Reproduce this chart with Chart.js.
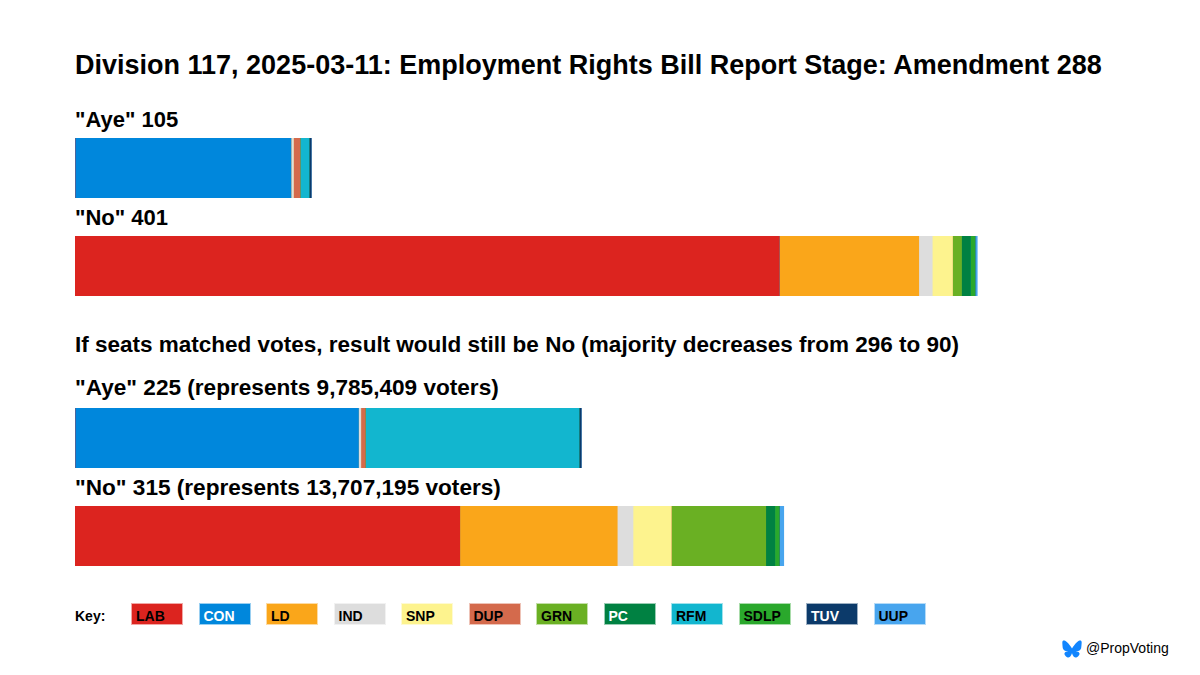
<!DOCTYPE html>
<html>
<head>
<meta charset="utf-8">
<script src="https://cdn.jsdelivr.net/npm/chart.js@4.4.1/dist/chart.umd.min.js"></script>
<style>
  html, body { margin: 0; padding: 0; background: #fff; }
  body { width: 1200px; height: 675px; position: relative; overflow: hidden;
         font-family: 'Liberation Sans', Arial, sans-serif; color: #000; }
  .txt { position: absolute; left: 75px; white-space: nowrap; font-weight: bold; line-height: 1; }
  .bar { position: absolute; left: 75px; width: 1125px; height: 60px; }
  .key { position: absolute; top: 603px; width: 52px; height: 22px; box-sizing: border-box;
         border: 1px solid rgba(255,255,255,0.6); font-weight: bold; font-size: 14px;
         line-height: 1; padding-left: 4px; padding-top: 5px; }
  .credit { position: absolute; left: 1062px; top: 639px; font-size: 14px; line-height: 1; white-space: nowrap; }
  .credit svg { position: absolute; left: 0; top: 1px; }
  .credit span { position: absolute; left: 24px; top: 2px; }
</style>
</head>
<body>
<div class="txt" style="top:52px;font-size:27px;">Division 117, 2025-03-11: Employment Rights Bill Report Stage: Amendment 288</div>
<div class="txt" style="top:109px;font-size:22px;">"Aye" 105</div>
<div class="bar" style="top:138px;"><canvas id="barAye"></canvas></div>
<div class="txt" style="top:207px;font-size:22px;">"No" 401</div>
<div class="bar" style="top:236px;"><canvas id="barNo"></canvas></div>
<div class="txt" style="top:334px;font-size:22.5px;">If seats matched votes, result would still be No (majority decreases from 296 to 90)</div>
<div class="txt" style="top:377px;font-size:22.6px;">"Aye" 225 (represents 9,785,409 voters)</div>
<div class="bar" style="top:408px;"><canvas id="barAyeProp"></canvas></div>
<div class="txt" style="top:477px;font-size:22.6px;">"No" 315 (represents 13,707,195 voters)</div>
<div class="bar" style="top:506px;"><canvas id="barNoProp"></canvas></div>
<div class="txt" style="top:609px;font-size:14px;">Key:</div>
<div id="keyRow"></div>
<div class="credit">
  <svg width="20" height="18" viewBox="0 0 600 530"><path fill="#1185fe" d="M135.7 44.3C202.4 94.4 274.2 196 300 249.5c26.4-53.5 97.6-155.1 164.3-205.2C512.4 8.2 590.4-19.8 590.4 69.1c0 17.8-10.2 149.2-16.1 170.6-20.8 74.3-96.5 93.3-163.8 81.8 117.7 20 147.6 86.3 83 152.6-122.8 126-176.5-31.6-190.3-72-2.500-7.4-3.700-10.9-3.700-7.9 0-3-1.200.5-3.700 7.9-13.800 40.400-67.500 198-190.300 72-64.600-66.300-34.700-132.600 83-152.600-67.300 11.500-143-7.500-163.800-81.800C19.800 218.300 9.600 86.900 9.600 69.100 9.600-19.800 87.600 8.200 135.700 44.300z"/></svg>
  <span>@PropVoting</span>
</div>
<script>
  var PARTIES = ['LAB', 'CON', 'LD', 'IND', 'SNP', 'DUP', 'GRN', 'PC', 'RFM', 'SDLP', 'TUV', 'UUP'];
  var COLOURS = ['#DC241F', '#0087DC', '#FAA61A', '#DDDDDD', '#FDF38E', '#D46A4C',
                 '#6AB023', '#008142', '#12B6CF', '#2AA82C', '#0C3A6A', '#48A5EE'];
  var KEY_TEXT = ['#000', '#fff', '#000', '#000', '#000', '#000', '#000', '#fff', '#000', '#000', '#fff', '#000'];

  // seats per party, in PARTIES order
  var AYE_ACTUAL = [0, 96, 0, 1, 0, 3, 0, 0, 4, 0, 1, 0];
  var NO_ACTUAL  = [313, 0, 62, 6, 9, 0, 4, 4, 0, 2, 0, 1];
  var AYE_PROP   = [0, 126, 0, 1, 0, 2, 0, 0, 95, 0, 1, 0];
  var NO_PROP    = [171, 0, 70, 7, 17, 0, 42, 4, 0, 2, 0, 2];

  var X_MAX = 500;

  function makeBar(id, values) {
    var datasets = PARTIES.map(function (p, i) {
      return {
        label: p,
        data: [values[i]],
        backgroundColor: COLOURS[i],
        borderWidth: 0,
        barPercentage: 1,
        categoryPercentage: 1
      };
    });
    return new Chart(document.getElementById(id), {
      type: 'bar',
      data: { labels: [''], datasets: datasets },
      options: {
        indexAxis: 'y',
        responsive: true,
        maintainAspectRatio: false,
        animation: false,
        layout: { padding: 0 },
        plugins: { legend: { display: false }, tooltip: { enabled: false } },
        scales: {
          x: { stacked: true, display: false, min: 0, max: X_MAX },
          y: { stacked: true, display: false }
        }
      }
    });
  }

  makeBar('barAye', AYE_ACTUAL);
  makeBar('barNo', NO_ACTUAL);
  makeBar('barAyeProp', AYE_PROP);
  makeBar('barNoProp', NO_PROP);

  var row = document.getElementById('keyRow');
  PARTIES.forEach(function (p, i) {
    var d = document.createElement('div');
    d.className = 'key';
    d.style.left = (131 + i * 67.5) + 'px';
    d.style.background = COLOURS[i];
    d.style.color = KEY_TEXT[i];
    d.textContent = p;
    row.appendChild(d);
  });
</script>
</body>
</html>
